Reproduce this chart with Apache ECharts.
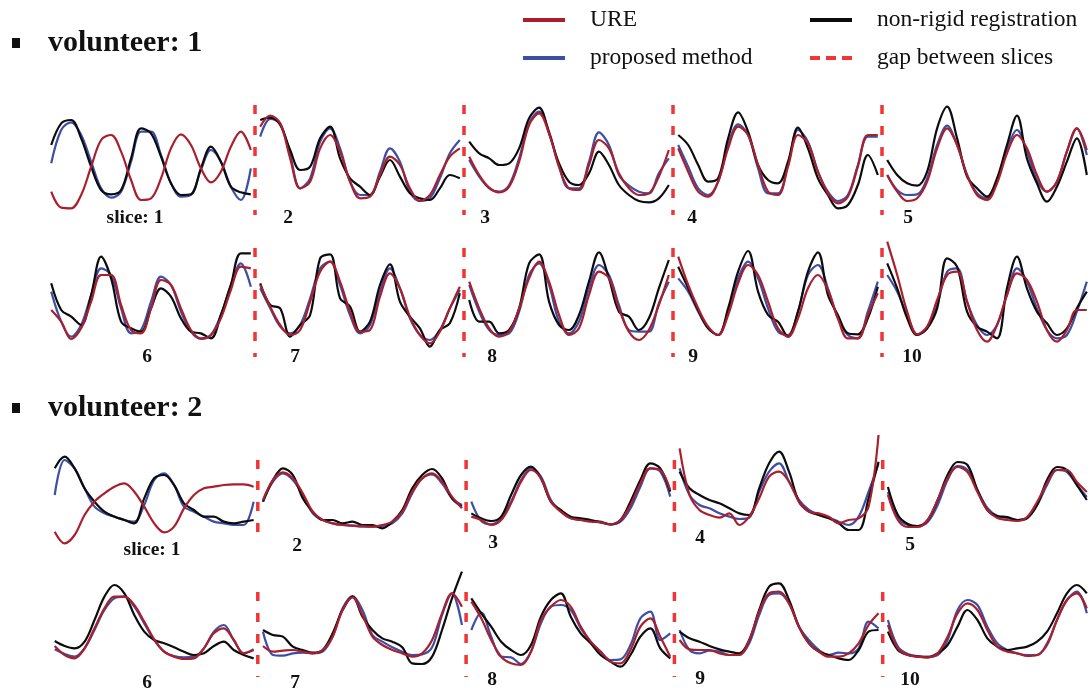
<!DOCTYPE html>
<html><head><meta charset="utf-8">
<script src="https://cdn.jsdelivr.net/npm/echarts@6/dist/echarts.min.js"></script>
<style>html,body{margin:0;padding:0;background:#fff}#c{width:1091px;height:698px}</style>
</head><body><div id="c"></div><script>
// ---- data: respiratory motion curves, 5 slices per row, 21 samples per slice (display units, downward positive) ----
const vol1Top_URE = [
 [290,338,340,300,215,135,120,170,255,315,310,250,160,118,150,220,262,230,155,110,165],
 [95,62,85,190,280,260,160,120,170,260,310,305,240,185,210,280,318,300,240,185,160],
 [185,240,278,292,275,200,90,55,115,215,280,285,210,135,160,235,280,300,295,245,165],
 [160,230,290,305,260,160,95,120,210,290,300,215,120,145,230,295,325,305,215,120,120],
 [240,290,318,310,260,160,100,150,240,300,315,265,175,120,160,240,290,260,170,100,165]];
const vol1Top_proposed = [
 [205,105,82,120,200,280,308,290,200,110,110,180,265,305,300,225,165,200,275,315,220],
 [125,72,85,180,280,250,140,100,160,260,300,300,230,160,200,290,318,310,250,175,135],
 [195,245,280,290,270,190,85,50,110,215,280,280,200,112,150,240,272,290,295,235,190],
 [150,215,280,300,260,150,88,120,220,295,295,210,105,140,230,290,318,300,210,125,125],
 [240,285,300,298,250,150,92,150,240,295,310,260,160,105,170,255,290,260,170,100,180]];
const vol1Top_nonrigid = [
 [150,85,75,130,215,285,298,285,190,100,115,185,265,300,298,220,155,200,275,292,298],
 [75,68,90,165,225,215,130,95,190,250,275,300,245,195,245,295,310,315,280,240,250],
 [140,175,190,210,205,160,70,38,115,205,260,270,235,170,210,270,300,318,322,310,270],
 [120,150,210,260,250,130,52,110,210,255,265,200,98,160,250,300,340,330,270,180,240],
 [195,240,265,272,230,100,35,130,245,280,305,250,150,62,190,265,320,275,200,130,240]];

const vol1Bottom_URE = [
 [225,260,312,280,200,120,120,210,285,295,220,135,150,220,285,310,300,250,165,95,100],
 [150,215,270,300,285,200,110,80,140,230,290,285,185,115,160,245,300,325,290,220,155],
 [140,220,280,305,290,220,130,80,140,240,300,280,180,110,130,220,290,315,285,210,120],
 [65,150,220,275,300,240,145,90,120,200,280,305,250,160,120,165,250,310,310,240,175],
 [20,120,230,298,275,195,120,110,200,285,320,270,180,115,135,200,285,320,285,225,225]];
const vol1Bottom_proposed = [
 [170,260,305,270,180,100,120,220,295,285,200,125,150,230,290,312,300,240,150,85,155],
 [160,220,275,295,270,190,100,80,150,240,295,270,170,100,160,250,300,315,285,220,165],
 [150,230,285,300,295,230,120,85,150,260,295,260,160,90,120,210,285,290,290,205,140],
 [130,170,230,280,300,230,130,80,130,220,290,300,230,120,90,160,250,300,310,230,140],
 [120,170,240,298,280,210,110,100,200,270,300,270,180,100,140,220,285,310,300,230,140]];
const vol1Bottom_nonrigid = [
 [145,225,245,270,180,65,130,260,280,290,220,160,185,250,290,295,310,240,150,55,55],
 [145,210,220,305,270,240,70,58,190,215,290,260,150,88,200,245,280,335,285,265,175],
 [195,260,260,295,285,220,85,58,200,270,285,240,140,52,130,230,245,285,250,160,75],
 [95,160,225,280,300,220,110,48,170,240,260,305,230,110,52,180,240,295,298,250,155],
 [85,160,250,300,280,220,70,95,230,275,290,310,160,65,160,230,265,300,280,220,170]];

const vol2Top_URE = [
 [260,295,270,210,170,145,125,115,140,185,235,262,245,190,150,130,125,120,118,118,125],
 [165,105,82,100,145,200,225,235,240,242,243,245,240,230,200,140,100,85,110,155,190],
 [215,225,240,225,175,110,75,100,170,200,220,225,230,232,238,225,180,115,70,75,135],
 [10,150,195,210,218,205,240,215,160,95,80,110,170,200,205,215,235,225,220,185,-30],
 [150,225,246,246,225,165,99,66,81,141,195,219,225,228,216,171,114,75,75,111,141]];
const vol2Top_proposed = [
 [150,45,70,130,185,205,215,225,230,180,105,85,120,185,200,215,230,235,240,240,170],
 [170,110,85,105,150,205,225,235,240,242,245,245,243,235,205,145,100,88,115,160,180],
 [170,228,238,220,170,105,70,95,165,200,220,225,228,230,238,230,190,125,70,80,155],
 [70,150,180,190,205,215,222,218,140,80,55,110,165,195,210,218,230,240,215,140,55],
 [141,219,240,243,231,180,105,63,75,135,189,213,219,225,219,180,120,75,81,120,156]];
const vol2Top_nonrigid = [
 [70,35,70,130,170,200,215,225,235,160,100,90,120,175,195,215,215,230,235,230,225],
 [170,105,70,90,160,200,225,225,235,230,240,240,250,230,195,130,90,72,100,160,185],
 [205,220,228,215,150,90,65,100,170,195,215,220,225,232,238,225,170,105,55,70,140],
 [80,130,150,165,175,190,205,210,130,55,20,80,170,200,210,220,235,255,255,160,50],
 [126,210,237,243,225,165,90,51,60,135,195,213,216,225,219,180,105,66,75,120,165]];

const vol2Bottom_URE = [
 [258,285,295,265,205,145,110,110,135,185,238,275,290,297,295,265,220,205,240,280,270],
 [258,275,272,270,275,280,270,230,150,112,165,230,255,270,280,290,280,240,160,100,140],
 [125,175,240,290,310,315,275,180,140,120,140,200,245,275,305,310,270,200,175,230,290],
 [240,268,270,270,280,285,285,240,155,100,95,130,200,250,275,290,290,280,250,195,160],
 [195,265,285,290,292,280,230,160,130,150,210,260,275,280,288,285,255,180,120,100,145]];
const vol2Bottom_proposed = [
 [268,282,290,265,210,150,115,110,140,190,240,275,288,292,290,265,215,195,240,280,268],
 [215,285,287,280,278,280,275,230,145,108,150,225,245,262,275,285,283,262,165,100,195],
 [210,158,230,290,292,312,275,190,140,135,150,205,245,275,300,298,255,175,155,240,220],
 [210,270,280,272,275,285,285,250,165,105,100,130,200,240,270,285,278,280,265,185,205],
 [180,260,282,288,290,285,240,150,120,135,200,250,270,280,285,285,250,180,120,95,160]];
const vol2Bottom_nonrigid = [
 [243,258,265,245,180,110,75,100,165,215,240,250,262,275,285,280,258,245,270,285,295],
 [210,225,230,260,270,278,270,220,150,110,170,210,235,245,262,310,312,290,210,115,35],
 [115,160,200,245,270,285,255,170,120,100,170,220,250,285,305,320,285,230,205,265,295],
 [215,235,245,258,268,275,280,240,150,80,70,120,200,250,275,285,295,300,270,215,210],
 [215,270,285,290,292,280,255,200,150,180,235,260,270,265,260,245,215,160,100,75,100]];

// slice boundaries (in slice units) and their displayed extent per row
const gapPositions = [1, 2, 3, 4];
const gapExtent = [[30, 360], [39, 366], [45, 294], [96, 351]];
const sliceLabelsA = ['slice: 1', '2', '3', '4', '5'];
const sliceLabelsB = ['6', '7', '8', '9', '10'];
const volunteerTitles = ['volunteer: 1', 'volunteer: 2'];
const legendNames = ['URE', 'proposed method', 'non-rigid registration', 'gap between slices'];

// ---- layout / style ----
const FONT = '"Liberation Serif", "DejaVu Serif", serif';
const RED = '#aa1f2c', BLUE = '#3d4ea6', BLACK = '#0c0c0c', GAP = '#ef3535';
const rows = [
  {ure: vol1Top_URE, prop: vol1Top_proposed, nr: vol1Top_nonrigid, grid: {left: 46, width: 1045, top: 95, height: 125}, y: [0, 375]},
  {ure: vol1Bottom_URE, prop: vol1Bottom_proposed, nr: vol1Bottom_nonrigid, grid: {left: 46, width: 1045, top: 235, height: 130}, y: [0, 390]},
  {ure: vol2Top_URE, prop: vol2Top_proposed, nr: vol2Top_nonrigid, grid: {left: 49.5, width: 1042, top: 430, height: 120}, y: [-45, 315]},
  {ure: vol2Bottom_URE, prop: vol2Bottom_proposed, nr: vol2Bottom_nonrigid, grid: {left: 49.5, width: 1042, top: 560, height: 130}, y: [0, 390]}
];
const S = 0.025, E = 0.98;
function toXY(panels) {
  const out = [];
  panels.forEach((arr, k) => {
    const n = arr.length;
    arr.forEach((v, i) => out.push([k + S + (E - S) * i / (n - 1), v]));
    if (k < panels.length - 1) out.push([k + 0.995, null]);
  });
  return out;
}
const grids = [], xAxes = [], yAxes = [], series = [];
rows.forEach((r, ri) => {
  grids.push(Object.assign({}, r.grid));
  xAxes.push({type: 'value', gridIndex: ri, min: 0, max: 5, show: false});
  yAxes.push({type: 'value', gridIndex: ri, min: r.y[0], max: r.y[1], inverse: true, show: false});
  const common = {type: 'line', xAxisIndex: ri, yAxisIndex: ri, symbol: 'none', smooth: 0.35, clip: false, silent: true, animation: false, connectNulls: false};
  series.push(Object.assign({}, common, {name: legendNames[1], data: toXY(r.prop), lineStyle: {width: 2.2, color: BLUE}, itemStyle: {color: BLUE}, z: 2}));
  series.push(Object.assign({}, common, {name: legendNames[2], data: toXY(r.nr), lineStyle: {width: 2.2, color: BLACK}, itemStyle: {color: BLACK}, z: 3}));
  series.push(Object.assign({}, common, {name: legendNames[0], data: toXY(r.ure), lineStyle: {width: 2.2, color: RED}, itemStyle: {color: RED}, z: 4}));
  const gd = [];
  gapPositions.forEach((g, gi) => {
    gd.push([g, gapExtent[ri][0]], [g, gapExtent[ri][1]]);
    if (gi < gapPositions.length - 1) gd.push([g + 0.5, null]);
  });
  series.push(Object.assign({}, common, {name: legendNames[3], smooth: false, data: gd, lineStyle: {width: 3.5, color: GAP, type: [9, 12]}, itemStyle: {color: GAP}, z: 5}));
});

const labelPos = [
  [[135, 218], [288, 218], [485, 218], [692, 218], [908, 218]],
  [[147, 357], [295, 357], [492, 357], [693, 357], [912, 357]],
  [[152, 550], [297, 546], [493, 543], [700, 538], [910, 545]],
  [[147, 683], [295, 683], [492, 680], [700, 679], [910, 680]]
];
const graphic = [];
[[43, 0], [408, 1]].forEach(([cy, vi]) => {
  graphic.push({type: 'rect', shape: {x: 12, y: cy - 5, width: 8, height: 10}, style: {fill: '#111'}});
  graphic.push({type: 'text', x: 48, y: cy, style: {text: volunteerTitles[vi], font: 'bold 30px ' + FONT, fill: '#111', verticalAlign: 'middle', textVerticalAlign: 'middle'}});
});
labelPos.forEach((rowPos, ri) => {
  const labels = (ri % 2 === 0) ? sliceLabelsA : sliceLabelsB;
  rowPos.forEach((p, k) => graphic.push({type: 'text', x: p[0], y: p[1], style: {text: labels[k], font: 'bold 19.5px ' + FONT, fill: '#111', align: 'center', textAlign: 'center', verticalAlign: 'middle', textVerticalAlign: 'middle'}}));
});

const DASH_ICON = 'path://M0,0h10v4h-10z M16,0h10v4h-10z M32,0h10v4h-10z';
const legendCommon = {orient: 'vertical', top: 3, itemGap: 14, itemWidth: 42, itemHeight: 4, selectedMode: false, icon: 'rect',
  textStyle: {fontFamily: FONT, fontSize: 23.5, color: '#111', padding: [0, 0, 0, 20]}};
const option = {
  backgroundColor: '#fff',
  animation: false,
  legend: [
    Object.assign({}, legendCommon, {left: 518, data: [legendNames[0], legendNames[1]]}),
    Object.assign({}, legendCommon, {left: 805, data: [legendNames[2], {name: legendNames[3], icon: DASH_ICON}]})
  ],
  grid: grids, xAxis: xAxes, yAxis: yAxes, series: series, graphic: graphic
};
const chart = echarts.init(document.getElementById('c'), null, {renderer: 'canvas'});
chart.setOption(option);
</script></body></html>
